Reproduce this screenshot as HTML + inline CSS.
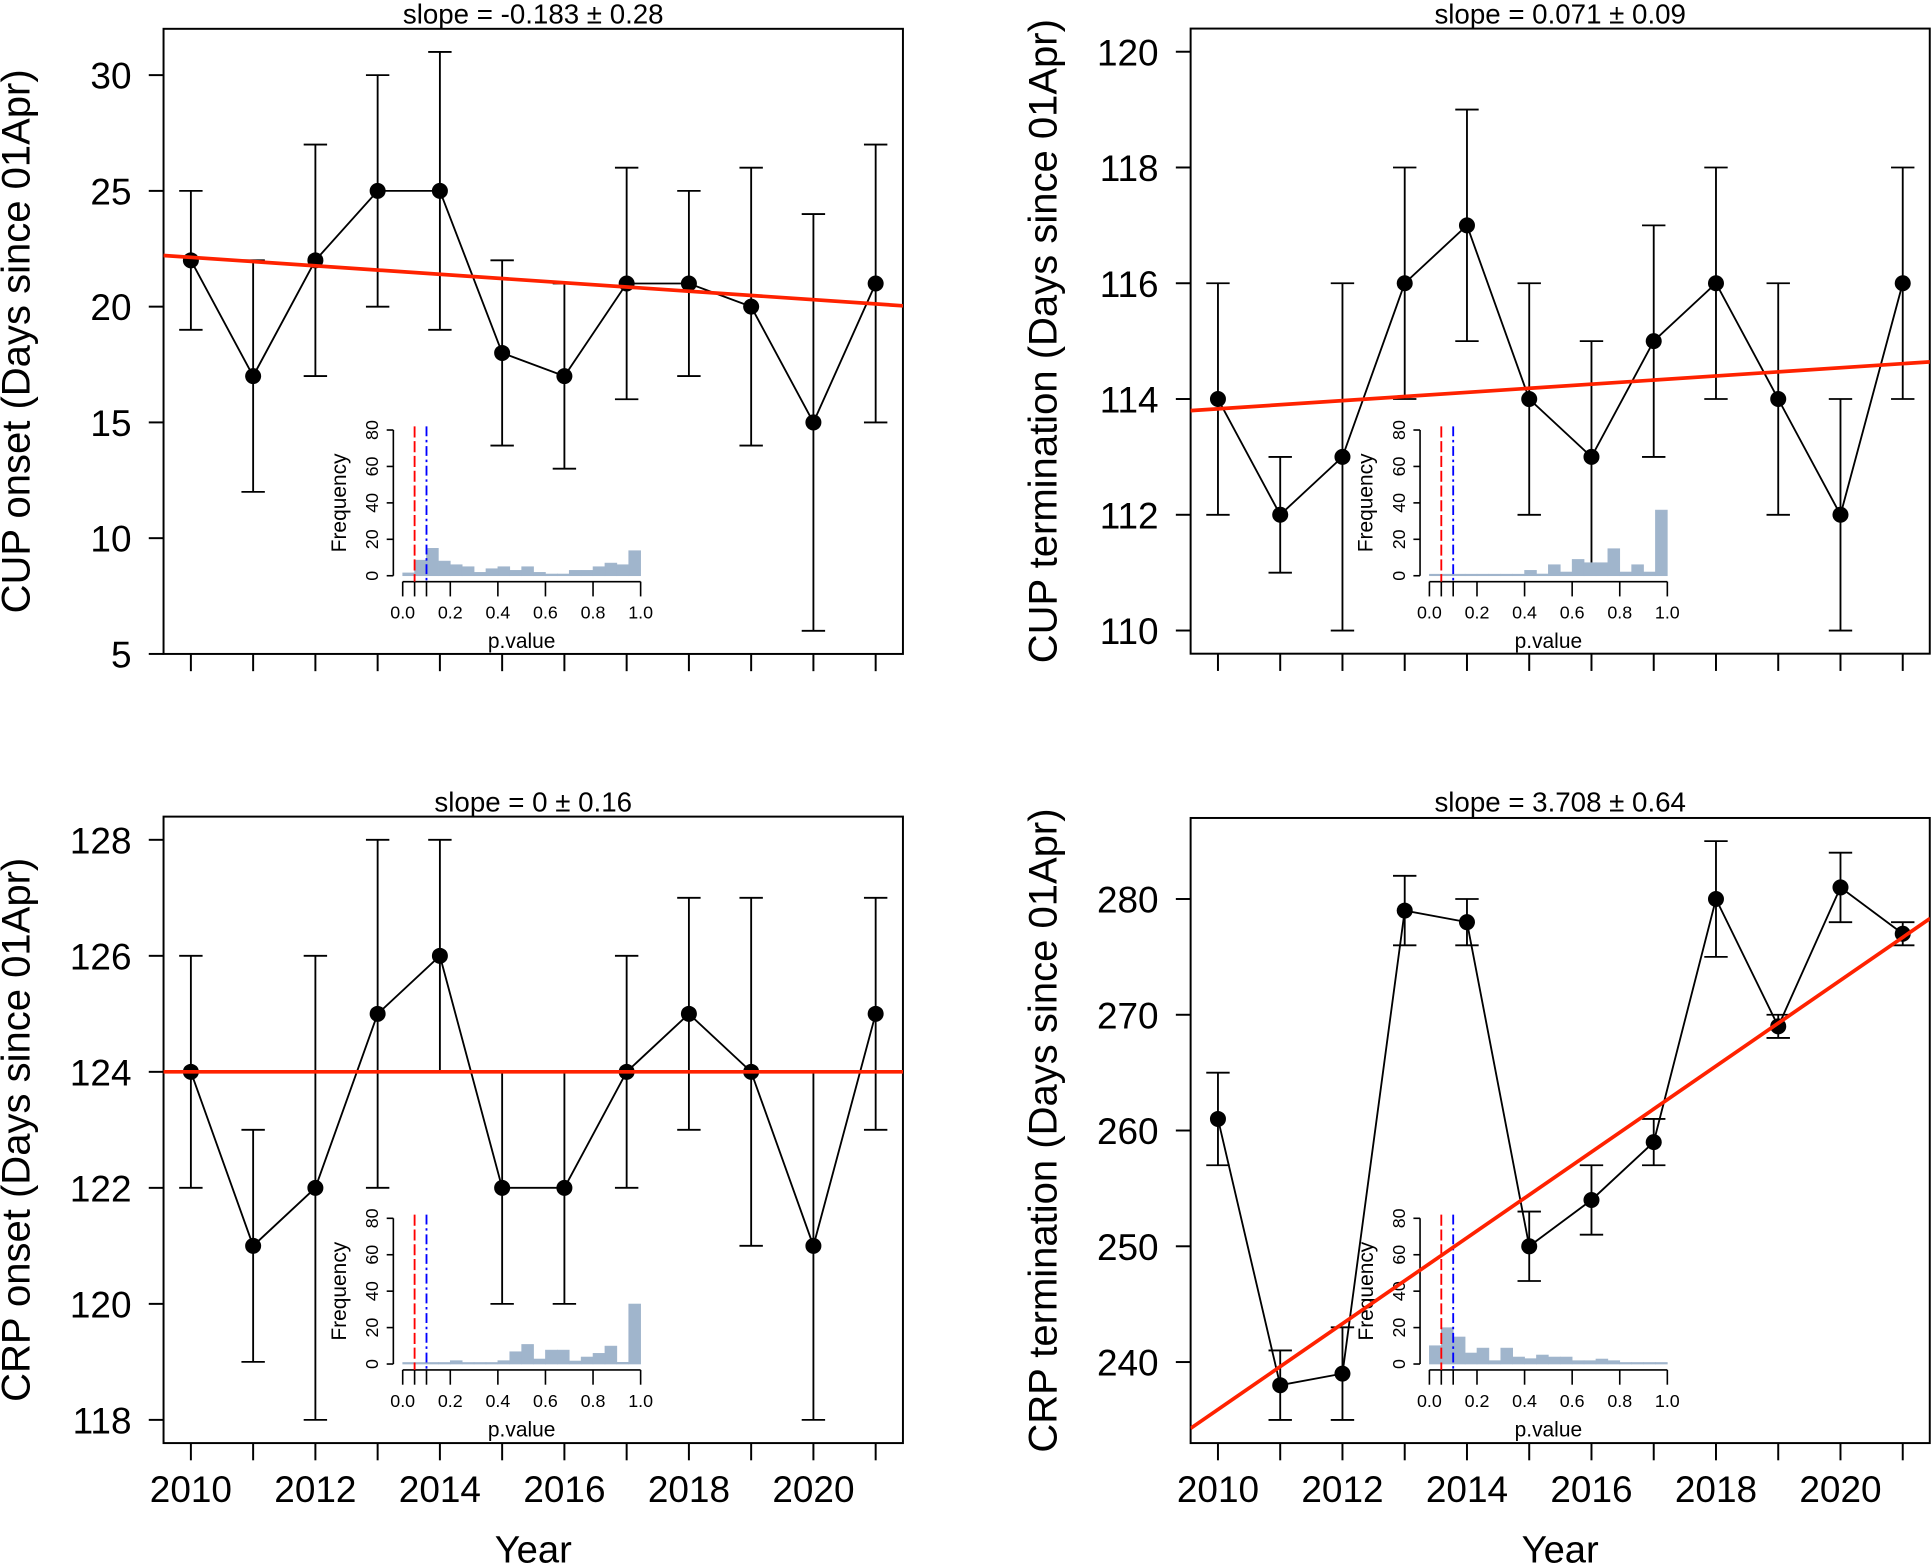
<!DOCTYPE html>
<html><head><meta charset="utf-8"><style>
html,body{margin:0;padding:0;background:#fff}
svg{display:block}
text{font-family:"Liberation Sans",Arial,sans-serif;fill:#000}
</style></head><body>
<svg id="chart" width="1931" height="1565" viewBox="0 0 1568 1270.8" xmlns="http://www.w3.org/2000/svg"></svg>
<script>
const years = [2010,2011,2012,2013,2014,2015,2016,2017,2018,2019,2020,2021];
const cupOnset = [22,17,22,25,25,18,17,21,21,20,15,21];
const cupOnsetLo = [19,12,17,20,19,14,13,16,17,14,6,15];
const cupOnsetHi = [25,22,27,30,31,22,21,26,25,26,24,27];
const cupTerm = [114,112,113,116,117,114,113,115,116,114,112,116];
const cupTermLo = [112,111,110,114,115,112,110,113,114,112,110,114];
const cupTermHi = [116,113,116,118,119,116,115,117,118,116,114,118];
const crpOnset = [124,121,122,125,126,122,122,124,125,124,121,125];
const crpOnsetLo = [122,119,118,122,124,120,120,122,123,121,118,123];
const crpOnsetHi = [126,123,126,128,128,124,124,126,127,127,124,127];
const crpTerm = [261,238,239,279,278,250,254,259,280,269,281,277];
const crpTermLo = [257,235,235,276,276,247,251,257,275,268,278,276];
const crpTermHi = [265,241,243,282,280,253,257,261,285,270,284,278];
const slopes = [-0.183,0.071,0,3.708];
const intercepts2010 = [22.13,113.83,124,235.9];
const titles = ["slope = -0.183 \u00b1 0.28","slope = 0.071 \u00b1 0.09","slope = 0 \u00b1 0.16","slope = 3.708 \u00b1 0.64"];
const yTitles = ["CUP onset (Days since 01Apr)","CUP termination (Days since 01Apr)","CRP onset (Days since 01Apr)","CRP termination (Days since 01Apr)"];
const yTicks1 = [5,10,15,20,25,30];
const yTicks2 = [110,112,114,116,118,120];
const yTicks3 = [118,120,122,124,126,128];
const yTicks4 = [240,250,260,270,280];
const xTickLabels = [2010,2012,2014,2016,2018,2020];
const hist1 = [1,8,14.5,7.5,5.5,4.4,1.3,3.3,4.4,2.4,4.4,1.3,0.4,0.4,2.4,2.4,4.4,6.4,5.5,13.2];
const hist2 = [0.3,0.3,0.3,0.3,0.3,0.3,0.3,0.3,2.4,0.4,5.5,1.5,8.4,6.6,6.6,14.3,1.5,5.5,1.5,35.5];
const hist3 = [0.3,0.3,0.3,0.3,1.3,0.3,0.3,0.3,1.3,6.2,10.2,2.2,7.1,7.1,1.1,3.3,5.3,9.3,0.4,32.4];
const hist4 = [9.5,19.4,14.3,5.5,8.2,1.3,8.2,3.3,2.4,4.4,3.3,3.3,1.3,1.3,2.2,1.3,0.3,0.3,0.3,0.3];
const histTicks = [0,0.2,0.4,0.6,0.8,1.0];
const freqTicks = [0,20,40,60,80];

const NS="http://www.w3.org/2000/svg";
const svg=document.getElementById('chart');
function el(tag,attrs,parent,txt){const e=document.createElementNS(NS,tag);for(const k in attrs)e.setAttribute(k,attrs[k]);if(txt!==undefined)e.textContent=txt;(parent||svg).appendChild(e);return e;}

const panels=[
 {vals:cupOnset,lo:cupOnsetLo,hi:cupOnsetHi,x2010:155,left:132.8,right:733.2,top:23.4,bottom:531,ymin:5,ymax:32,ticks:yTicks1,hist:hist1,hx0:327,hy0:467.5,bottomRow:false,titleY:19,ytX:24},
 {vals:cupTerm,lo:cupTermLo,hi:cupTermHi,x2010:989,left:966.8,right:1567,top:23.2,bottom:530.8,ymin:109.6,ymax:120.4,ticks:yTicks2,hist:hist2,hx0:1160.7,hy0:467.5,bottomRow:false,titleY:19,ytX:858},
 {vals:crpOnset,lo:crpOnsetLo,hi:crpOnsetHi,x2010:155,left:132.8,right:733.2,top:663.1,bottom:1171.8,ymin:117.6,ymax:128.4,ticks:yTicks3,hist:hist3,hx0:327,hy0:1107.6,bottomRow:true,titleY:659,ytX:24},
 {vals:crpTerm,lo:crpTermLo,hi:crpTermHi,x2010:989,left:966.8,right:1567,top:664.2,bottom:1171.8,ymin:233,ymax:287,ticks:yTicks4,hist:hist4,hx0:1160.7,hy0:1107.6,bottomRow:true,titleY:659,ytX:858}
];
const names=['cup-onset','cup-termination','crp-onset','crp-termination'];
panels.forEach((p,pi)=>{
  const g=el('g',{});
  
  
  const X=yr=>p.x2010+(yr-2010)*50.55;
  const Y=v=>p.bottom-(v-p.ymin)/(p.ymax-p.ymin)*(p.bottom-p.top);
  const cx=(p.left+p.right)/2, cy=(p.top+p.bottom)/2;
  const t=el('text',{x:cx,y:p.titleY,'text-anchor':'middle','font-size':22.5},g,titles[pi]);
  
  
  const yt=el('text',{x:p.ytX,y:cy,'text-anchor':'middle','font-size':32.5,transform:`rotate(-90 ${p.ytX} ${cy})`},g,yTitles[pi]);
  
  
  p.ticks.forEach(v=>{
    const y=Y(v);
    el('line',{x1:p.left,x2:p.left-12,y1:y,y2:y,stroke:'#000','stroke-width':1.6},g);
    const tl=el('text',{x:p.left-26,y:y+11,'text-anchor':'end','font-size':30},g,String(v));
    
    
  });
  years.forEach(yr=>{el('line',{x1:X(yr),x2:X(yr),y1:p.bottom,y2:p.bottom+14,stroke:'#000','stroke-width':1.6},g);});
  if(p.bottomRow){
    xTickLabels.forEach(yr=>{
      const xl=el('text',{x:X(yr),y:p.bottom+48,'text-anchor':'middle','font-size':30},g,String(yr));
      
      
    });
    const xt=el('text',{x:cx,y:p.bottom+97,'text-anchor':'middle','font-size':31},g,'Year');
    
    
  }
  const box=el('rect',{x:p.left,y:p.top,width:p.right-p.left,height:p.bottom-p.top,fill:'none',stroke:'#000','stroke-width':1.6},g);
  
  
  const clipId='clip'+pi;
  const cp=el('clipPath',{id:clipId},g);
  el('rect',{x:p.left,y:p.top,width:p.right-p.left,height:p.bottom-p.top},cp);
  years.forEach((yr,i)=>{
    const x=X(yr);
    const eb=el('path',{d:`M${x-9.5},${Y(p.hi[i])}H${x+9.5}M${x},${Y(p.hi[i])}V${Y(p.lo[i])}M${x-9.5},${Y(p.lo[i])}H${x+9.5}`,stroke:'#000','stroke-width':1.5,fill:'none'},g);
    
    
  });
  const pl=el('polyline',{points:years.map((yr,i)=>X(yr)+','+Y(p.vals[i])).join(' '),fill:'none',stroke:'#000','stroke-width':1.5},g);
  
  
  years.forEach((yr,i)=>{
    const c=el('circle',{cx:X(yr),cy:Y(p.vals[i]),r:6.5,fill:'#000'},g);
    
    
  });
  const hg=el('g',{},g);
  
  
  const hx=q=>p.hx0+q*193.2;
  const hy=f=>p.hy0-f*1.479;
  el('rect',{x:hx(0)-2,y:p.hy0,width:200,height:60,fill:'#fff'},hg);
  p.hist.forEach((f,i)=>{
    const b=el('rect',{x:hx(i*0.05),y:hy(f)-0.8,width:193.2*0.05,height:f*1.479+0.8,fill:'#a0b5cc',stroke:'#a0b5cc','stroke-width':0.5},hg);
    
    
  });
  el('line',{x1:p.hx0-7.6,x2:p.hx0-7.6,y1:hy(0),y2:hy(80),stroke:'#000','stroke-width':1.3},hg);
  freqTicks.forEach(f=>{
    el('line',{x1:p.hx0-7.6,x2:p.hx0-13,y1:hy(f),y2:hy(f),stroke:'#000','stroke-width':1.3},hg);
    const xx=p.hx0-20, yy=hy(f);
    el('text',{x:xx,y:yy,'text-anchor':'middle','font-size':14.5,transform:`rotate(-90 ${xx} ${yy})`},hg,String(f));
  });
  const fx=p.hx0-46, fy=hy(40);
  const fl=el('text',{x:fx,y:fy,'text-anchor':'middle','font-size':17,transform:`rotate(-90 ${fx} ${fy})`},hg,'Frequency');
  
  
  const ay=p.hy0+4.8;
  el('line',{x1:hx(0),x2:hx(1),y1:ay,y2:ay,stroke:'#000','stroke-width':1.3},hg);
  [0,0.05,0.1,0.2,0.4,0.6,0.8,1.0].forEach(q=>el('line',{x1:hx(q),x2:hx(q),y1:ay,y2:ay+12,stroke:'#000','stroke-width':1.3},hg));
  histTicks.forEach(q=>el('text',{x:hx(q),y:ay+30,'text-anchor':'middle','font-size':14.5},hg,q.toFixed(1)));
  const pv=el('text',{x:hx(0.5),y:ay+54,'text-anchor':'middle','font-size':17},hg,'p.value');
  
  
  const rl=el('line',{x1:hx(0.05),x2:hx(0.05),y1:hy(82),y2:ay,stroke:'#ff0000','stroke-width':1.5,'stroke-dasharray':'9 3'},hg);
  
  
  const bl=el('line',{x1:hx(0.1),x2:hx(0.1),y1:hy(82),y2:ay,stroke:'#0000ff','stroke-width':1.5,'stroke-dasharray':'8 3 2 3'},hg);
  
  
  const x0=2009.56,x1=2021.44;
  const tr=el('line',{x1:X(x0),y1:Y(intercepts2010[pi]+slopes[pi]*(x0-2010)),x2:X(x1),y2:Y(intercepts2010[pi]+slopes[pi]*(x1-2010)),stroke:'#ff2200','stroke-width':3,'clip-path':`url(#${clipId})`},g);
  
  
});
</script>
</body></html>
